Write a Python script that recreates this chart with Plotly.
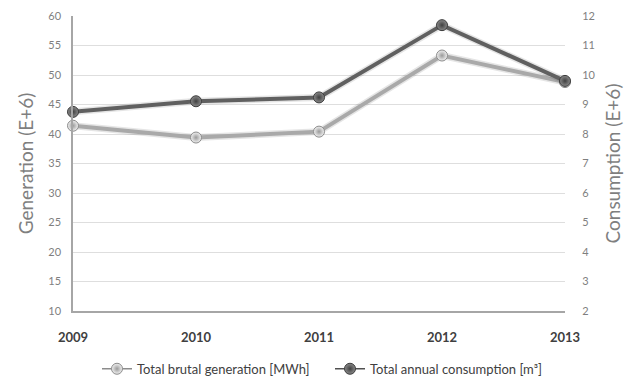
import plotly.graph_objects as go

years = [2009, 2010, 2011, 2012, 2013]
generation = [41.4, 39.4, 40.4, 53.3, 48.8]        # E+6 MWh, left axis
consumption = [8.75, 9.11, 9.24, 11.69, 9.8]       # E+6 m3, right axis
gen_ticks = [10, 15, 20, 25, 30, 35, 40, 45, 50, 55, 60]
cons_ticks = [2, 3, 4, 5, 6, 7, 8, 9, 10, 11, 12]
gen_name = "Total brutal generation [MWh]"
cons_name = "Total annual consumption [m³]"

FONT = "Lato"
LIGHT = "#a9a9a9"
DARK = "#606060"

gen_marker = dict(size=11, color="#f2f2f2", line=dict(color="#8c8c8c", width=1),
                  gradient=dict(type="radial", color="#9a9a9a"))
cons_marker = dict(size=11, color="#8a8a8a", line=dict(color="#3c3c3c", width=1),
                   gradient=dict(type="radial", color="#404040"))

fig = go.Figure()

# soft drop shadows under the lines
fig.add_trace(go.Scatter(x=years, y=generation, mode="lines", yaxis="y",
                         line=dict(color="rgba(0,0,0,0.10)", width=7),
                         showlegend=False, hoverinfo="skip"))
fig.add_trace(go.Scatter(x=years, y=consumption, mode="lines", yaxis="y2",
                         line=dict(color="rgba(0,0,0,0.10)", width=7),
                         showlegend=False, hoverinfo="skip"))

# the two series
fig.add_trace(go.Scatter(x=years, y=generation, yaxis="y", mode="lines+markers",
                         name=gen_name, line=dict(color=LIGHT, width=4),
                         marker=gen_marker, cliponaxis=False, showlegend=False))
fig.add_trace(go.Scatter(x=years, y=consumption, yaxis="y2", mode="lines+markers",
                         name=cons_name, line=dict(color=DARK, width=4),
                         marker=cons_marker, cliponaxis=False, showlegend=False))

# legend keys with a thin line through the marker
fig.add_trace(go.Scatter(x=[None], y=[None], mode="lines+markers", name=gen_name,
                         line=dict(color="#8c8c8c", width=1.5), marker=gen_marker))
fig.add_trace(go.Scatter(x=[None], y=[None], mode="lines+markers", name=cons_name,
                         line=dict(color="#505050", width=1.5), marker=cons_marker))

fig.update_layout(
    width=629, height=381,
    margin=dict(l=73, r=64, t=16, b=70, autoexpand=False),
    paper_bgcolor="white", plot_bgcolor="white",
    font=dict(family=FONT, color="#595959", size=11),
    showlegend=True,
    legend=dict(orientation="h", x=97 / 629, xanchor="left", xref="container",
                y=0.032, yanchor="middle", yref="container",
                font=dict(family=FONT, size=13, color="#404040"),
                itemwidth=30, traceorder="normal",
                entrywidthmode="pixels", entrywidth=188),
    xaxis=dict(range=[2009, 2013], tickvals=years, ticktext=[str(y) for y in years],
               showgrid=False, zeroline=False, showline=True, linecolor="#a6a6a6",
               linewidth=1.5, ticks="outside", ticklen=14, tickcolor="rgba(0,0,0,0)",
               tickfont=dict(family=FONT, size=13, color="#404040", weight="bold")),
    yaxis=dict(range=[10, 60], tickvals=gen_ticks, showgrid=True, gridcolor="#dedede",
               gridwidth=1, zeroline=False, showline=True, linecolor="#a6a6a6",
               linewidth=1.5, ticks="outside", ticklen=8, tickcolor="rgba(0,0,0,0)",
               tickfont=dict(size=11, color="#7f7f7f"),
               title=dict(text="Generation (E+6)", standoff=10,
                          font=dict(family=FONT, size=19, color="#7f7f7f"))),
    yaxis2=dict(range=[2, 12], tickvals=cons_ticks, overlaying="y", side="right",
                showgrid=False, zeroline=False, showline=False,
                ticks="outside", ticklen=14, tickcolor="rgba(0,0,0,0)",
                tickfont=dict(size=11, color="#7f7f7f"),
                title=dict(text="Consumption (E+6)", standoff=12,
                           font=dict(family=FONT, size=19, color="#7f7f7f"))),
)

fig.write_html("out.html")
